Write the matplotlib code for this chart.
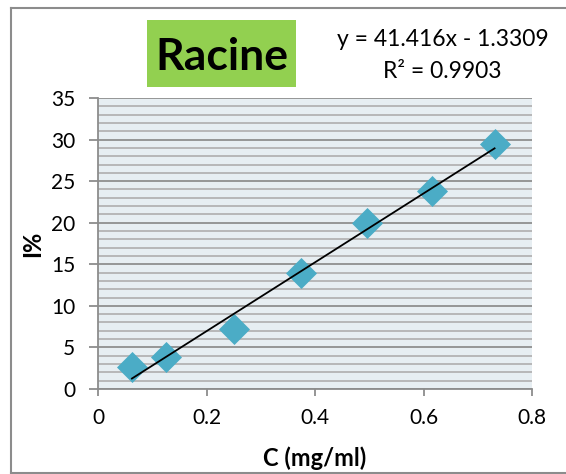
import matplotlib.pyplot as plt
import numpy as np
from matplotlib.patches import Rectangle
from matplotlib.lines import Line2D

# Estimated data points from the image
conc = [0.0625, 0.125, 0.25, 0.375, 0.495, 0.615, 0.731]
inhibition = [2.7, 3.8, 7.2, 13.9, 20.0, 23.8, 29.5]
slope, intercept = 41.416, -1.3309

plt.rcParams['font.family'] = ['Lato', 'DejaVu Sans']

fig = plt.figure(figsize=(5.66, 4.74), dpi=100)
W, H = 566, 474
ax = fig.add_axes([98 / W, 1 - 389 / H, (532 - 98) / W, (389 - 98) / H])
ax.set_facecolor('#e7eef2')

# outer chart border (left, top, bottom; right side is cut off)
border = dict(color='#8c8c8c', linewidth=1.5, transform=fig.transFigure)
fig.lines.append(Line2D([11 / W, 11 / W], [1 - 8 / H, 1 - 473 / H], **border))
fig.lines.append(Line2D([11 / W, 1], [1 - 8 / H, 1 - 8 / H], **border))
fig.lines.append(Line2D([11 / W, 1], [1 - 473 / H, 1 - 473 / H], **border))

ax.set_xlim(0, 0.8)
ax.set_ylim(0, 35)
ax.set_xticks(np.arange(0, 0.81, 0.2))
ax.set_xticklabels(['0', '0.2', '0.4', '0.6', '0.8'])
ax.set_yticks(range(0, 36, 5))
ax.set_yticks(range(0, 36, 1), minor=True)
ax.grid(True, axis='y', which='major', color='#8f8f8f', linewidth=1.3)
ax.grid(True, axis='y', which='minor', color='#b3b3b3', linewidth=1.3)
ax.set_axisbelow(True)
ax.tick_params(axis='both', which='major', labelsize=15, color='#8c8c8c', width=1.3)
ax.tick_params(axis='y', which='minor', length=0)
ax.tick_params(axis='x', length=5, pad=9)
ax.tick_params(axis='y', length=6.5, pad=10)
for s in ['top', 'right']:
    ax.spines[s].set_visible(False)
for s in ['left', 'bottom']:
    ax.spines[s].set_color('#8c8c8c')
    ax.spines[s].set_linewidth(1.3)

# points and trendline
ax.scatter(conc, inhibition, marker='D', s=250, color='#4bacc6', zorder=3, linewidths=0)
xs = np.array([min(conc), max(conc)])
ax.plot(xs, slope * xs + intercept, color='black', linewidth=1.3, zorder=4)

ax.set_xlabel('C (mg/ml)', fontsize=17, fontweight='bold', va='center')
ax.xaxis.set_label_coords(0.5, -(458 - 389) / 291)
ax.set_ylabel('I%', fontsize=17, fontweight='bold', va='center')
ax.yaxis.set_label_coords((32.5 - 98) / 434, 0.5)

# title box
fig.patches.append(Rectangle((147 / W, 1 - 87 / H), 149 / W, 67 / H, transform=fig.transFigure,
                             facecolor='#92d050', edgecolor='none'))
fig.text(221.5 / W, 1 - 70 / H, 'Racine', fontsize=32, fontweight='bold', ha='center', va='baseline')
fig.text(442.5 / W, 1 - 46.5 / H, 'y = 41.416x - 1.3309', fontsize=16.5, ha='center', va='baseline')
fig.text(442.5 / W, 1 - 78 / H, 'R² = 0.9903', fontsize=16.5, ha='center', va='baseline')

fig.savefig('out.png', dpi=100)
